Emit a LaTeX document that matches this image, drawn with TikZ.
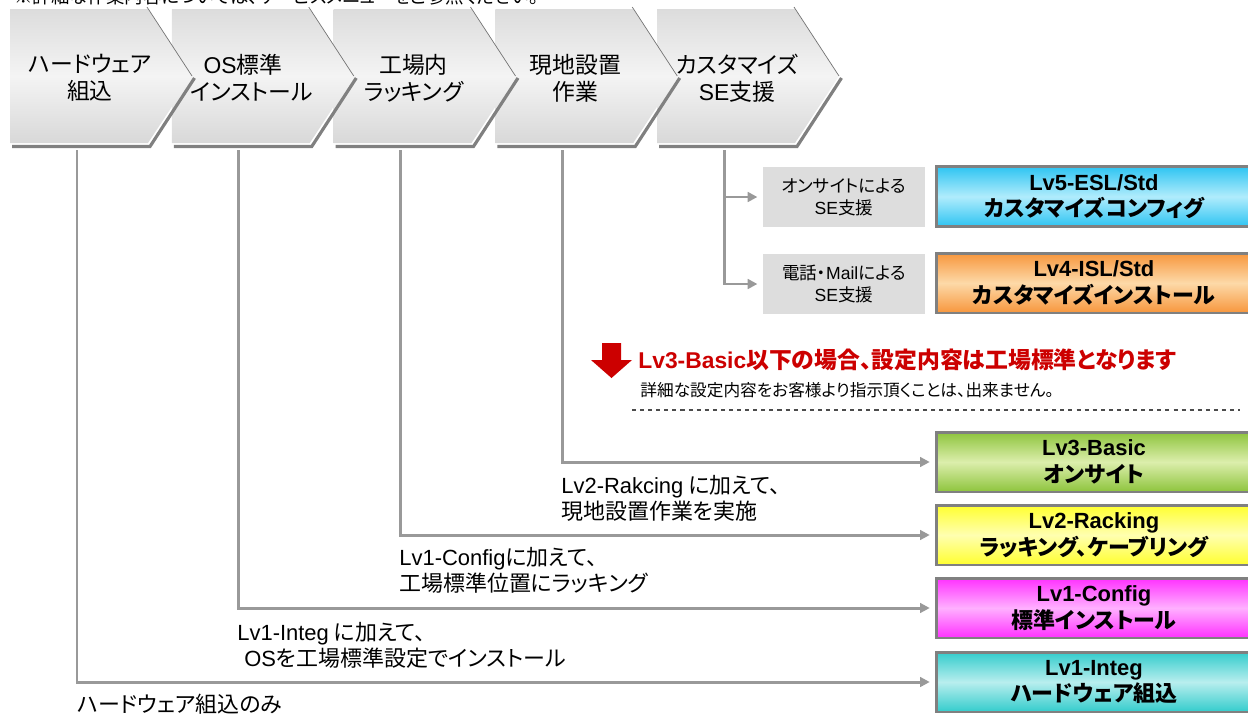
\documentclass[tikz,border=0pt]{standalone}
\usepackage{fontspec}
\setmainfont{Noto Sans CJK JP}[RawFeature=+palt]
\newfontfamily\lat{Liberation Sans}
\usepackage{xcolor}
\usetikzlibrary{arrows.meta, calc}

\definecolor{chevtop}{HTML}{DCDCDC}
\definecolor{chevmid}{HTML}{F4F4F4}
\definecolor{chevbot}{HTML}{D8D8D8}
\definecolor{sefill}{HTML}{DDDDDD}
\definecolor{connline}{HTML}{999999}
\definecolor{boxline}{HTML}{808080}
\definecolor{alertred}{HTML}{CC0000}
\definecolor{lvfivetop}{HTML}{2EC4F2}
\definecolor{lvfivemid}{HTML}{B0ECFC}
\definecolor{lvfourtop}{HTML}{F7963C}
\definecolor{lvfourmid}{HTML}{FDD9A8}
\definecolor{lvthreetop}{HTML}{8DC43C}
\definecolor{lvthreemid}{HTML}{DCEEAC}
\definecolor{lvtwotop}{HTML}{FFFF2E}
\definecolor{lvtwomid}{HTML}{FFFFB0}
\definecolor{lvcfgtop}{HTML}{FF30FF}
\definecolor{lvcfgmid}{HTML}{FFB0FF}
\definecolor{lvinttop}{HTML}{33CCCC}
\definecolor{lvintmid}{HTML}{B8EEEE}

\begin{document}
\begin{tikzpicture}[
    x=0.02cm, y=-0.02cm,
    every node/.style={inner sep=0pt, align=center},
    chevfill/.style={top color=chevtop, bottom color=chevbot, middle color=chevmid},
    chevedge/.style={draw=black!55, line width=0.4pt},
    chevshadow/.style={draw=black!50, line width=1.8pt},
    chevtext/.style={font=\fontsize{13}{15.3}\selectfont},
    sebox/.style={fill=sefill, minimum width=3.24cm, minimum height=1.2cm,
                  font=\fontsize{10}{12.5}\selectfont},
    lvbox/.style={draw=boxline, line width=1.7pt, minimum width=6.3cm,
                  minimum height=1.2cm, font=\bfseries\fontsize{12.5}{15}\selectfont},
    lvshade/.style={top color=#1top, bottom color=#1top, middle color=#1mid},
    conn/.style={draw=connline, line width=1.7pt,
                 -{Triangle[length=5.5pt,width=5.5pt]}, shorten >=3pt},
    desc/.style={anchor=west, align=left, font=\fontsize{12.5}{14.7}\selectfont},
    divider/.style={draw=black!70, line width=0.6pt, dash pattern=on 2.3pt off 2.3pt}
]
\useasboundingbox (0,0) rectangle (1248,714);

% process steps, drawn right to left so each tip lies on the next step
\foreach \i/\nm/\txt in {4/se/{カスタマイズ\\{\lat SE}支援},
                         3/site/{現地設置\\作業},
                         2/rack/{工場内\\ラッキング},
                         1/os/{{\lat OS}標準\hspace*{10pt}\\インストール},
                         0/hw/{ハードウェア\\組込}}{
  \pgfmathsetmacro\xa{10+161.75*\i}
  \draw[chevshadow] (\xa+2,146.5) -- (\xa+140,146.5) -- (\xa+184.5,78);
  \shade[chevfill] (\xa,9) -- (\xa+138,9) -- (\xa+182,76) -- (\xa+138,143)
                   -- (\xa,143) -- cycle;
  \draw[chevedge] (\xa+137,7) -- (\xa+182,76);
  \node[chevtext] (\nm) at (\xa+80,78) {\txt};
  \coordinate (\nm-foot) at (\xa+67,150);
}

\node[anchor=base west, font=\fontsize{10.5}{12}\selectfont] (remark) at (14,3)
    {※詳細な作業内容については、サービスメニューをご参照ください。};

% support options
\node[sebox] (onsite) at (844,197) {オンサイトによる\\{\lat SE}支援};
\node[sebox] (phone)  at (844,284) {電話・{\lat Mail}による\\{\lat SE}支援};

% service levels
\node[lvbox, anchor=west, lvshade=lvfive]  (lv5)  at (935,196.5) {{\lat Lv5-ESL/Std}\\カスタマイズコンフィグ};
\node[lvbox, anchor=west, lvshade=lvfour]  (lv4)  at (935,283)   {{\lat Lv4-ISL/Std}\\カスタマイズインストール};
\node[lvbox, anchor=west, lvshade=lvthree] (lv3)  at (935,462)   {{\lat Lv3-Basic}\\オンサイト};
\node[lvbox, anchor=west, lvshade=lvtwo]   (lv2)  at (935,535)   {{\lat Lv2-Racking}\\ラッキング、ケーブリング};
\node[lvbox, anchor=west, lvshade=lvcfg]   (lv1c) at (935,608)   {{\lat Lv1-Config}\\標準インストール};
\node[lvbox, anchor=west, lvshade=lvint]   (lv1i) at (935,682)   {{\lat Lv1-Integ}\\ハードウェア組込};

% boundary note
\fill[alertred] (602,343) -- (621,343) -- (621,360) -- (632,360) -- (611.5,378)
    -- (591,360) -- (602,360) -- cycle;
\node[anchor=west, text=alertred, font=\bfseries\fontsize{13}{15}\selectfont] (warn) at (638,360)
    {{\lat Lv3-Basic}以下の場合、設定内容は工場標準となります};
\node[anchor=west, font=\fontsize{9.5}{11}\selectfont] (note) at (640,390)
    {詳細な設定内容をお客様より指示頂くことは、出来ません。};
\draw[divider] (632,410) -- (1240,410);

% descriptions
\node[desc] (d3) at (561,498) {{\lat Lv2-Rakcing} に加えて、\\現地設置作業を実施};
\node[desc] (d2) at (399,570) {{\lat Lv1-Config}に加えて、\\工場標準位置にラッキング};
\node[desc] (d1) at (237,645) {{\lat Lv1-Integ} に加えて、\\\hspace*{4pt}{\lat OS}を工場標準設定でインストール};
\node[desc] (d0) at (77,704) {ハードウェア組込のみ};

% connectors
\draw[conn] (hw-foot)   |- (lv1i.west);
\draw[conn] (os-foot)   |- (lv1c.west);
\draw[conn] (rack-foot) |- (lv2.west);
\draw[conn] (site-foot) |- (lv3.west);
\draw[conn] (se-foot)   |- (phone.west);
\draw[conn] (se-foot |- onsite.west) -- (onsite.west);
\end{tikzpicture}
\end{document}
